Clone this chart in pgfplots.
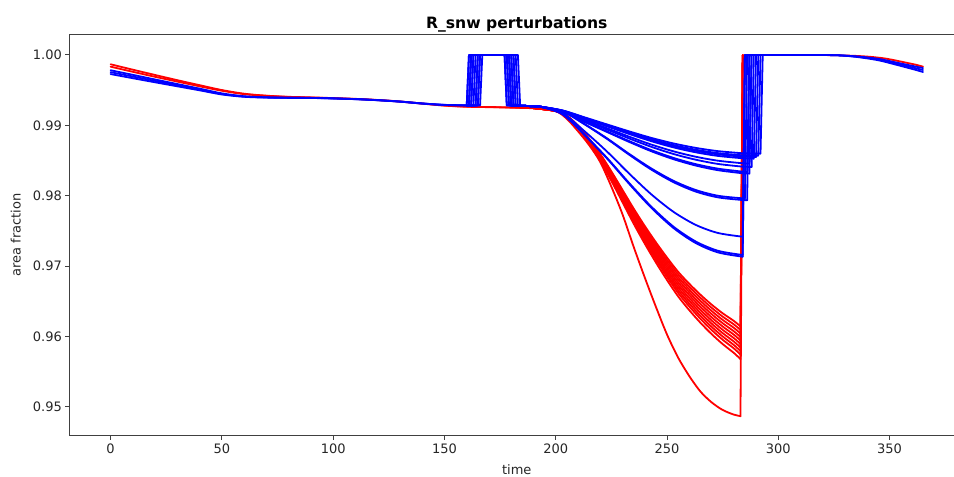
\documentclass[border=0pt]{standalone}
\usepackage{fontspec}
\setmainfont{DejaVu Sans}
\usepackage{pgfplots}
\pgfplotsset{compat=1.18}
\pgfplotsset{R/.style={color=red, line width=1.8pt, line cap=round, line join=round},
             B/.style={color=blue, line width=1.8pt, line cap=round, line join=round}}
\begin{document}
\begin{tikzpicture}
\begin{axis}[
  at={(0,0)}, anchor=south west,
  scale only axis, width=893.6pt, height=400.3pt,
  xmin=-18.25, xmax=383.25, ymin=0.94598, ymax=1.00284,
  xtick={0,50,100,150,200,250,300,350},
  ytick={0.95,0.96,0.97,0.98,0.99,1.00},
  scaled y ticks=false,
  yticklabel style={/pgf/number format/.cd, fixed, fixed zerofill, precision=2},
  /pgf/number format/assume math mode=true,
  tick align=outside, major tick length=4.55pt,
  tick pos=left,
  major tick style={black!75, line width=1pt},
  axis line style={black!75, line width=1pt},
  ticklabel style={font=\fontsize{13}{15}\selectfont, text=black!85},
  clip=true,
]
% ---------- red: common early part ----------
\addplot[R, smooth] coordinates {(0,0.99868)(10,0.99791)(20,0.99716)(30,0.99642)(40,0.99571)(50,0.99502)(60,0.99450)(70,0.99422)(80,0.99406)(94,0.99394)(110,0.99377)(120,0.99361)(130,0.99340)(140,0.99311)(150,0.99283)(160,0.99267)(175,0.99258)(190,0.99246)};
\addplot[R, smooth] coordinates {(0,0.99834)(10,0.99761)(20,0.99690)(30,0.99622)(40,0.99555)(50,0.99492)(60,0.99444)(70,0.99420)(80,0.99404)(94,0.99392)(110,0.99375)(120,0.99359)(130,0.99338)(140,0.99309)(150,0.99281)(160,0.99265)(175,0.99256)(190,0.99244)};
% ---------- red: declines ----------
\addplot[R, smooth] coordinates {(190,0.99245)(200,0.99208)(205,0.99137)(210,0.98997)(215,0.98811)(220,0.98594)(225,0.98346)(230,0.98083)(235,0.97819)(240,0.97571)(245,0.97339)(250,0.97122)(255,0.96920)(260,0.96750)(265,0.96595)(270,0.96455)(275,0.96331)(280,0.96223)(283,0.96145)};
\addplot[R, smooth] coordinates {(190,0.99245)(200,0.99207)(205,0.99135)(210,0.98993)(215,0.98804)(220,0.98584)(225,0.98332)(230,0.98064)(235,0.97796)(240,0.97544)(245,0.97308)(250,0.97087)(255,0.96883)(260,0.96709)(265,0.96552)(270,0.96410)(275,0.96284)(280,0.96174)(283,0.96095)};
\addplot[R, smooth] coordinates {(190,0.99245)(200,0.99207)(205,0.99133)(210,0.98989)(215,0.98797)(220,0.98573)(225,0.98317)(230,0.98045)(235,0.97773)(240,0.97517)(245,0.97277)(250,0.97053)(255,0.96845)(260,0.96669)(265,0.96509)(270,0.96365)(275,0.96237)(280,0.96125)(283,0.96045)};
\addplot[R, smooth] coordinates {(190,0.99245)(200,0.99206)(205,0.99131)(210,0.98985)(215,0.98790)(220,0.98563)(225,0.98303)(230,0.98026)(235,0.97750)(240,0.97490)(245,0.97246)(250,0.97019)(255,0.96808)(260,0.96629)(265,0.96466)(270,0.96320)(275,0.96190)(280,0.96076)(283,0.95995)};
\addplot[R, smooth] coordinates {(190,0.99245)(200,0.99206)(205,0.99130)(210,0.98981)(215,0.98783)(220,0.98552)(225,0.98288)(230,0.98008)(235,0.97727)(240,0.97463)(245,0.97216)(250,0.96985)(255,0.96770)(260,0.96589)(265,0.96424)(270,0.96275)(275,0.96143)(280,0.96028)(283,0.95945)};
\addplot[R, smooth] coordinates {(190,0.99245)(200,0.99205)(205,0.99128)(210,0.98977)(215,0.98776)(220,0.98542)(225,0.98274)(230,0.97989)(235,0.97704)(240,0.97436)(245,0.97185)(250,0.96950)(255,0.96733)(260,0.96548)(265,0.96381)(270,0.96230)(275,0.96096)(280,0.95979)(283,0.95895)};
\addplot[R, smooth] coordinates {(190,0.99245)(200,0.99204)(205,0.99126)(210,0.98973)(215,0.98769)(220,0.98531)(225,0.98259)(230,0.97970)(235,0.97681)(240,0.97409)(245,0.97154)(250,0.96916)(255,0.96695)(260,0.96508)(265,0.96338)(270,0.96185)(275,0.96049)(280,0.95930)(283,0.95845)};
\addplot[R, smooth] coordinates {(190,0.99245)(200,0.99204)(205,0.99124)(210,0.98969)(215,0.98762)(220,0.98521)(225,0.98245)(230,0.97951)(235,0.97658)(240,0.97382)(245,0.97123)(250,0.96882)(255,0.96658)(260,0.96468)(265,0.96295)(270,0.96140)(275,0.96002)(280,0.95881)(283,0.95795)};
\addplot[R, smooth] coordinates {(190,0.99245)(200,0.99203)(205,0.99123)(210,0.98965)(215,0.98755)(220,0.98510)(225,0.98230)(230,0.97933)(235,0.97635)(240,0.97355)(245,0.97093)(250,0.96848)(255,0.96620)(260,0.96428)(265,0.96253)(270,0.96095)(275,0.95955)(280,0.95833)(283,0.95745)};
\addplot[R, smooth] coordinates {(190,0.99245)(200,0.99202)(205,0.99120)(210,0.98960)(215,0.98746)(220,0.98496)(225,0.98211)(230,0.97908)(235,0.97605)(240,0.97320)(245,0.97053)(250,0.96803)(255,0.96571)(260,0.96375)(265,0.96197)(270,0.96037)(275,0.95894)(280,0.95769)(283,0.95680)};
\addplot[R, smooth] coordinates {(190,0.99245)(200,0.99201)(205,0.99092)(210,0.98917)(215,0.98720)(220,0.98479)(225,0.98129)(230,0.97736)(235,0.97276)(240,0.96839)(245,0.96423)(250,0.96029)(255,0.95701)(260,0.95439)(265,0.95220)(270,0.95067)(275,0.94958)(280,0.94892)(283,0.94870)};
% ---------- red: jumps ----------
\addplot[R] coordinates {(283,0.96145)(284,0.99995)};
\addplot[R] coordinates {(283,0.95995)(284,0.99995)};
\addplot[R] coordinates {(283,0.95845)(284,0.99995)};
\addplot[R] coordinates {(283,0.95680)(284,0.99995)};
\addplot[R] coordinates {(283,0.94870)(284,0.99995)};
% ---------- red: late part ----------
\addplot[R] coordinates {(284,0.99995)(288,1.0)(300,1.0)};
\addplot[R, smooth] coordinates {(300,1.0)(315,1.0)(325,0.99997)(335,0.99987)(342,0.99972)(348,0.99950)(353,0.99920)(358,0.99887)(362,0.99860)(365,0.99834)};
% ---------- blue: common early part ----------
\addplot[B, smooth] coordinates {(0,0.99783)(10,0.99718)(20,0.99652)(30,0.99587)(40,0.99522)(50,0.99455)(60,0.99414)(70,0.99399)(80,0.99393)(94,0.99389)(110,0.99374)(120,0.99359)(130,0.99339)(140,0.99312)(150,0.99292)(160,0.99285)};
\addplot[B, smooth] coordinates {(0,0.99756)(10,0.99694)(20,0.99632)(30,0.99571)(40,0.99510)(50,0.99447)(60,0.99410)(70,0.99397)(80,0.99392)(94,0.99388)(110,0.99373)(120,0.99358)(130,0.99338)(140,0.99311)(150,0.99291)(160,0.99284)};
\addplot[B, smooth] coordinates {(0,0.99729)(10,0.99670)(20,0.99612)(30,0.99555)(40,0.99498)(50,0.99439)(60,0.99406)(70,0.99395)(80,0.99391)(94,0.99387)(110,0.99372)(120,0.99357)(130,0.99337)(140,0.99310)(150,0.99290)(160,0.99283)};
% ---------- blue: pulses ----------
\addplot[B] coordinates {(160,0.99284)(161,0.99283)(162,1.0)(177,1.0)(178,0.99282)(186,0.99278)(193,0.99266)};
\addplot[B] coordinates {(160,0.99284)(162,0.99283)(163,1.0)(178,1.0)(179,0.99282)(186,0.99278)(193,0.99266)};
\addplot[B] coordinates {(160,0.99284)(161,1.0)(179,1.0)(180,0.99282)(186,0.99278)(193,0.99266)};
\addplot[B] coordinates {(160,0.99284)(164,0.99283)(165,1.0)(180,1.0)(181,0.99282)(186,0.99278)(193,0.99266)};
\addplot[B] coordinates {(160,0.99284)(165,0.99283)(166,1.0)(181,1.0)(182,0.99282)(186,0.99278)(193,0.99266)};
\addplot[B] coordinates {(160,0.99284)(161,0.99283)(162,1.0)(183,1.0)(184,0.99282)(186,0.99278)(193,0.99266)};
\addplot[B] coordinates {(160,0.99284)(163,0.99283)(164,1.0)(178,1.0)(179,0.99282)(186,0.99278)(193,0.99266)};
\addplot[B] coordinates {(160,0.99284)(166,0.99283)(167,1.0)(182,1.0)(183,0.99282)(186,0.99278)(193,0.99266)};
\addplot[B] coordinates {(160,0.99284)(162,0.99283)(163,1.0)(179,1.0)(180,0.99282)(186,0.99278)(193,0.99266)};
\addplot[B] coordinates {(160,0.99284)(161,1.0)(177,1.0)(178,0.99282)(186,0.99278)(193,0.99266)};
\addplot[B] coordinates {(160,0.99284)(164,0.99283)(165,1.0)(181,1.0)(182,0.99282)(186,0.99278)(193,0.99266)};
\addplot[B] coordinates {(160,0.99284)(165,0.99283)(166,1.0)(180,1.0)(181,0.99282)(186,0.99278)(193,0.99266)};
\addplot[B] coordinates {(160,0.99284)(161,0.99283)(162,1.0)(179,1.0)(180,0.99282)(186,0.99278)(193,0.99266)};
% ---------- blue: declines ----------
\addplot[B, smooth] coordinates {(193,0.99266)(203,0.99213)(213,0.99114)(223,0.99014)(233,0.98915)(243,0.98822)(253,0.98743)(263,0.98680)(273,0.98634)(284,0.98604)};
\addplot[B, smooth] coordinates {(193,0.99266)(203,0.99211)(213,0.99107)(223,0.99003)(233,0.98900)(243,0.98803)(253,0.98720)(263,0.98654)(273,0.98606)(284,0.98575)};
\addplot[B, smooth] coordinates {(193,0.99266)(203,0.99209)(213,0.99103)(223,0.98996)(233,0.98890)(243,0.98790)(253,0.98705)(263,0.98638)(273,0.98588)(284,0.98556)};
\addplot[B, smooth] coordinates {(193,0.99266)(203,0.99207)(213,0.99097)(223,0.98987)(233,0.98878)(243,0.98775)(253,0.98687)(263,0.98617)(273,0.98566)(284,0.98533)};
\addplot[B, smooth] coordinates {(193,0.99266)(203,0.99202)(213,0.99081)(223,0.98960)(233,0.98840)(243,0.98727)(253,0.98631)(263,0.98554)(273,0.98498)(284,0.98462)};
\addplot[B, smooth] coordinates {(193,0.99266)(203,0.99198)(213,0.99070)(223,0.98942)(233,0.98814)(243,0.98695)(253,0.98593)(263,0.98512)(273,0.98452)(284,0.98414)};
\addplot[B, smooth] coordinates {(193,0.99266)(203,0.99192)(213,0.99054)(223,0.98915)(233,0.98777)(243,0.98648)(253,0.98537)(263,0.98449)(273,0.98385)(284,0.98343)};
\addplot[B, smooth] coordinates {(193,0.99266)(203,0.99190)(213,0.99048)(223,0.98907)(233,0.98765)(243,0.98632)(253,0.98519)(263,0.98429)(273,0.98363)(284,0.98320)};
\addplot[B, smooth] coordinates {(193,0.99266)(203,0.99201)(213,0.99019)(223,0.98817)(233,0.98595)(243,0.98387)(253,0.98211)(263,0.98081)(273,0.98000)(284,0.97964)};
\addplot[B, smooth] coordinates {(193,0.99266)(203,0.99200)(213,0.99014)(223,0.98809)(233,0.98583)(243,0.98371)(253,0.98192)(263,0.98059)(273,0.97977)(284,0.97940)};
\addplot[B, smooth] coordinates {(193,0.99266)(203,0.99174)(213,0.98915)(223,0.98629)(233,0.98315)(243,0.98019)(253,0.97770)(263,0.97585)(273,0.97471)(284,0.97419)};
\addplot[B, smooth] coordinates {(193,0.99266)(203,0.99161)(213,0.98866)(223,0.98539)(233,0.98181)(243,0.97844)(253,0.97559)(263,0.97349)(273,0.97218)(284,0.97159)};
\addplot[B, smooth] coordinates {(193,0.99266)(203,0.99159)(213,0.98861)(223,0.98531)(233,0.98169)(243,0.97828)(253,0.97540)(263,0.97327)(273,0.97195)(284,0.97135)};
% ---------- blue: jumps ----------
\addplot[B] coordinates {(284,0.98604)(292,0.98599)(293,1.0)(300,1.0)};
\addplot[B] coordinates {(284,0.98575)(291,0.98570)(292,1.0)(300,1.0)};
\addplot[B] coordinates {(284,0.98556)(290,0.98551)(291,1.0)(300,1.0)};
\addplot[B] coordinates {(284,0.98533)(289,0.98528)(290,1.0)(300,1.0)};
\addplot[B] coordinates {(284,0.98462)(287,0.98457)(288,1.0)(300,1.0)};
\addplot[B] coordinates {(284,0.98414)(288,0.98409)(289,1.0)(300,1.0)};
\addplot[B] coordinates {(284,0.98343)(286,0.98338)(287,1.0)(300,1.0)};
\addplot[B] coordinates {(284,0.98320)(287,0.98315)(288,1.0)(300,1.0)};
\addplot[B] coordinates {(284,0.97964)(285,0.97962)(286,1.0)(300,1.0)};
\addplot[B] coordinates {(284,0.97940)(286,0.97937)(287,1.0)(300,1.0)};
\addplot[B] coordinates {(284,0.97419)(285,1.0)(300,1.0)};
\addplot[B] coordinates {(284,0.97159)(285,1.0)(300,1.0)};
\addplot[B] coordinates {(284,0.97135)(285,1.0)(300,1.0)};
% ---------- blue: late part ----------
\addplot[B, smooth] coordinates {(300,1.0)(322,0.99999)(330,0.99991)(337,0.99975)(345,0.99945)(352,0.99900)(358,0.99860)(362,0.99834)(365,0.99815)};
\addplot[B, smooth] coordinates {(300,1.0)(322,0.99999)(330,0.99990)(337,0.99970)(345,0.99935)(352,0.99885)(358,0.99840)(362,0.99810)(365,0.99787)};
\addplot[B, smooth] coordinates {(300,1.0)(322,0.99999)(330,0.99989)(337,0.99965)(345,0.99925)(352,0.99870)(358,0.99820)(362,0.99786)(365,0.99759)};
\end{axis}
\node[anchor=base, font=\bfseries\fontsize{15.6}{18}\selectfont] at (446.8pt,407.0pt) {R\_snw perturbations};
\node[anchor=base, font=\fontsize{13}{15}\selectfont, text=black!85] at (446.8pt,-39pt) {time};
\node[anchor=base, rotate=90, font=\fontsize{13}{15}\selectfont, text=black!85] at (-49.3pt,200.15pt) {area fraction};
\pgfresetboundingbox
\useasboundingbox (-70pt,-41.7pt) rectangle (884pt,435.3pt);
\end{tikzpicture}
\end{document}
